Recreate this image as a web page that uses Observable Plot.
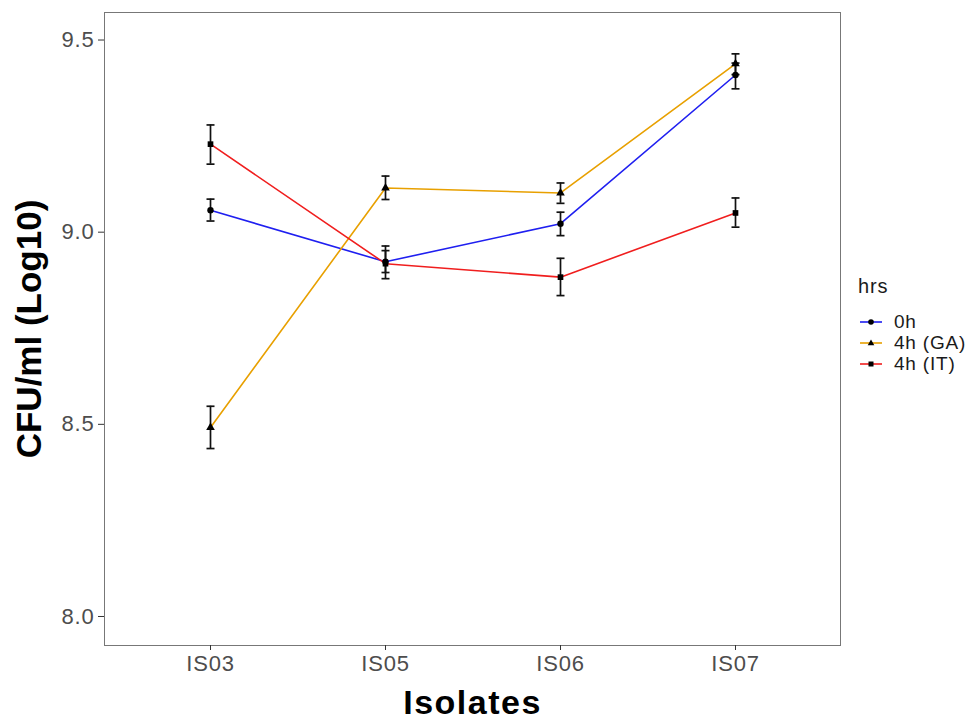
<!DOCTYPE html>
<html><head><meta charset="utf-8">
<script src="https://cdn.jsdelivr.net/npm/d3@7"></script>
<script src="https://cdn.jsdelivr.net/npm/@observablehq/plot@0.6"></script>
<style>
body{margin:0;background:#fff;font-family:"Liberation Sans",Arial,sans-serif}
#wrap{position:relative;width:975px;height:720px}
svg g[aria-label="y-axis label"] text{font-size:35px;font-weight:bold;fill:#000}
svg g[aria-label="x-axis label"] text{font-size:34px;font-weight:bold;fill:#000;letter-spacing:1.5px}
svg g[aria-label="y-axis tick label"], svg g[aria-label="x-axis tick label"]{fill:#4d4d4d;letter-spacing:0.8px}
#legend{position:absolute;left:858px;top:275px;font-size:19px;letter-spacing:0.8px;color:#1a1a1a}
#legend .title{margin-bottom:13px;font-size:20px}
#legend .row{display:flex;align-items:center;height:21px}
#legend svg{margin-left:2px;margin-right:12px}
</style></head>
<body><div id="wrap"></div>
<script>
const isolates = ["IS03","IS05","IS06","IS07"];
const series = ["0h","4h (GA)","4h (IT)"];
const colors = ["#1f1ff0","#e8a000","#f01e1e"];
const symbols = ["circle","triangle","square"];
const yTicks = [8.0, 8.5, 9.0, 9.5];

const mean0h = [9.057, 8.923, 9.022, 9.409];
const lo0h   = [9.029, 8.895, 8.991, 9.373];
const hi0h   = [9.086, 8.952, 9.052, 9.440];
const meanGA = [8.492, 9.115, 9.102, 9.438];
const loGA   = [8.437, 9.085, 9.075, 9.410];
const hiGA   = [8.547, 9.146, 9.128, 9.464];
const meanIT = [9.229, 8.918, 8.883, 9.050];
const loIT   = [9.177, 8.879, 8.835, 9.013];
const hiIT   = [9.279, 8.964, 8.932, 9.089];

const means = [mean0h, meanGA, meanIT];
const los = [lo0h, loGA, loIT];
const his = [hi0h, hiGA, hiIT];

const rows = [];
series.forEach((s, si) => isolates.forEach((iso, i) =>
  rows.push({hrs: s, iso, mean: means[si][i], lo: los[si][i], hi: his[si][i]})));

const cap = {draw(ctx, size){ const r = Math.sqrt(size / Math.PI); ctx.moveTo(-r, 0); ctx.lineTo(r, 0); }};

const chart = Plot.plot({
  width: 975, height: 720,
  marginLeft: 104, marginRight: 135, marginTop: 12, marginBottom: 75,
  style: {fontSize: "22px", fontFamily: "Liberation Sans, Arial, sans-serif", background: "white"},
  x: {type: "point", domain: isolates, padding: 0.6},
  y: {domain: [7.9245, 9.5716]},
  color: {domain: series, range: colors},
  symbol: {domain: series, range: symbols},
  marks: [
    Plot.frame({stroke: "#777", strokeWidth: 1}),
    Plot.axisY({ticks: yTicks, tickFormat: d => d.toFixed(1), tickSize: 6, tickPadding: 4, stroke: "#333",
      label: "CFU/ml (Log10)", labelAnchor: "center", labelArrow: "none", labelOffset: 88}),
    Plot.axisX({tickSize: 5, tickPadding: 5, stroke: "#333",
      label: "Isolates", labelAnchor: "center", labelArrow: "none", labelOffset: 68}),
    Plot.line(rows, {x: "iso", y: "mean", z: "hrs", stroke: "hrs", strokeWidth: 1.6}),
    Plot.ruleX(rows, {x: "iso", y1: "lo", y2: "hi", stroke: "#111", strokeWidth: 1.7}),
    Plot.dot(rows, {x: "iso", y: "lo", symbol: cap, r: 4, stroke: "#111", strokeWidth: 1.7}),
    Plot.dot(rows, {x: "iso", y: "hi", symbol: cap, r: 4, stroke: "#111", strokeWidth: 1.7}),
    Plot.dot(rows, {x: "iso", y: "mean", symbol: "hrs", fill: "#000", stroke: "none", r: 3.2})
  ]
});
const wrap = document.getElementById("wrap");
wrap.appendChild(chart);

const legend = document.createElement("div");
legend.id = "legend";
const t = document.createElement("div"); t.className = "title"; t.textContent = "hrs";
legend.appendChild(t);
const symPaths = {
  "circle": '<circle cx="11" cy="6" r="2.8" fill="#000"/>',
  "triangle": '<path d="M11,2.6 L14.3,8.3 L7.7,8.3Z" fill="#000"/>',
  "square": '<rect x="8.5" y="3.5" width="5" height="5" fill="#000"/>'
};
series.forEach((s, i) => {
  const row = document.createElement("div"); row.className = "row";
  row.innerHTML = `<svg width="22" height="12"><line x1="0" x2="22" y1="6" y2="6" stroke="${colors[i]}" stroke-width="1.6"/>${symPaths[symbols[i]]}</svg><span>${s}</span>`;
  legend.appendChild(row);
});
wrap.appendChild(legend);
</script>
</body></html>
